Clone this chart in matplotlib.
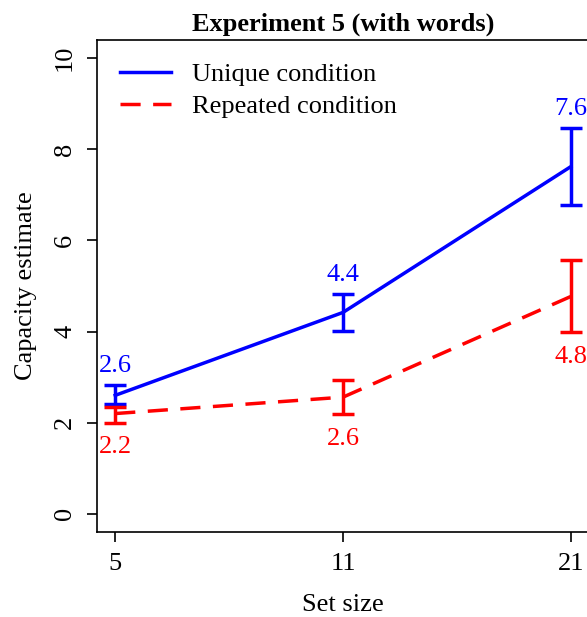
import numpy as np
import matplotlib
matplotlib.use("Agg")
import matplotlib.pyplot as plt
from matplotlib.lines import Line2D

plt.rcParams['font.family'] = ['Liberation Serif', 'DejaVu Serif']

set_sizes = ['5', '11', '21']
unique_mean = [2.6, 4.42, 7.62]
unique_lo = [2.40, 4.01, 6.78]
unique_hi = [2.83, 4.83, 8.46]
repeated_mean = [2.2, 2.56, 4.77]
repeated_lo = [2.00, 2.18, 3.98]
repeated_hi = [2.34, 2.93, 5.57]
unique_text = ['2.6', '4.4', '7.6']
repeated_text = ['2.2', '2.6', '4.8']
legend_labels = ['Unique condition', 'Repeated condition']

x = np.arange(1, len(set_sizes) + 1)
LW = 2.5
DASH = (0, (5.8, 3.6))

fig = plt.figure(figsize=(5.87, 6.17), dpi=100)
ax = fig.add_axes([97 / 587, 1 - 532 / 617, 492 / 587, 492 / 617])

um = np.array(unique_mean)
rm = np.array(repeated_mean)
ax.errorbar(x, um, yerr=[um - np.array(unique_lo), np.array(unique_hi) - um],
            color='blue', lw=LW, capsize=8, capthick=LW, elinewidth=LW)
ax.errorbar(x, rm, yerr=[rm - np.array(repeated_lo), np.array(repeated_hi) - rm],
            color='red', lw=LW, capsize=8, capthick=LW, elinewidth=LW, ls=DASH)

for xi, hi, t in zip(x, unique_hi, unique_text):
    ax.text(xi, hi + 0.42, t, color='blue', ha='center', va='center', fontsize=19)
for xi, lo, t in zip(x, repeated_lo, repeated_text):
    ax.text(xi, lo - 0.53, t, color='red', ha='center', va='center', fontsize=19)

ax.set_xlim(0.92, 3.08)
ax.set_ylim(-0.4, 10.4)
ax.set_xticks(x)
ax.set_xticklabels(set_sizes)
ax.set_yticks([0, 2, 4, 6, 8, 10])
plt.setp(ax.get_yticklabels(), rotation=90, va='center')
ax.tick_params(labelsize=19, length=7, width=1.2)
ax.tick_params(axis='x', pad=8)
ax.tick_params(axis='y', pad=8)
for s in ax.spines.values():
    s.set_linewidth(1.2)
ax.spines['right'].set_visible(False)

ax.set_xlabel('Set size', fontsize=19, labelpad=14)
ax.set_ylabel('Capacity estimate', fontsize=19, labelpad=12)
ax.set_title('Experiment 5 (with words)', fontsize=19, fontweight='bold', pad=7)

h = [Line2D([], [], color='blue', lw=LW),
     Line2D([], [], color='red', lw=LW, ls=DASH)]
ax.legend(h, legend_labels, loc='upper left', bbox_to_anchor=(0.047, 0.954), frameon=False,
          fontsize=19, handlelength=1.93, handletextpad=0.8, labelspacing=0.33,
          borderaxespad=0, borderpad=0)

fig.savefig('out.png', dpi=100)
